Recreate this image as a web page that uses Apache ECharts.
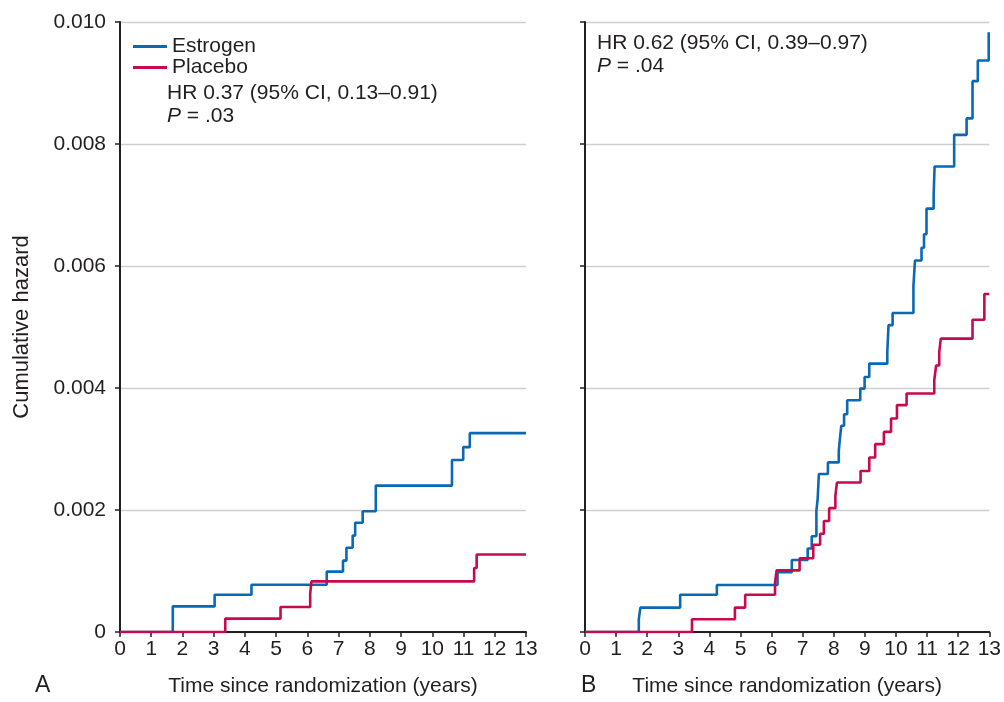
<!DOCTYPE html>
<html>
<head>
<meta charset="utf-8">
<script src="https://cdn.jsdelivr.net/npm/echarts@6/dist/echarts.min.js"></script>
<style>
  html, body { margin: 0; padding: 0; background: #fff; }
  #chart { width: 1004px; height: 702px; }
</style>
</head>
<body>
<div id="chart"></div>
<script>
// Cumulative hazard step curves, estrogen vs placebo (panels A and B)
const xTicks = [0, 1, 2, 3, 4, 5, 6, 7, 8, 9, 10, 11, 12, 13];
const yTicks = [0, 0.002, 0.004, 0.006, 0.008, 0.010];

// Panel A
const timeAEstrogen = [0, 1.69, 3.03, 4.21, 6.62, 7.14, 7.25, 7.45, 7.53, 7.77, 8.19, 10.63, 10.99, 11.2, 13];
const hazAEstrogen  = [0, 0.00042, 0.00061, 0.000775, 0.00099, 0.00117, 0.00138, 0.00158, 0.00179, 0.00198, 0.0024, 0.00282, 0.00303, 0.00326, 0.00326];
const timeAPlacebo  = [0, 3.37, 5.14, 6.09, 6.13, 11.34, 11.42, 13];
const hazAPlacebo   = [0, 0.00022, 0.00041, 0.00063, 0.00083, 0.00105, 0.00127, 0.00127];

// Panel B
const timeBEstrogen = [0, 1.73, 1.78, 3.06, 4.24, 6.19, 6.65, 7.16, 7.29, 7.44, 7.48, 7.52, 7.81, 8.16, 8.20, 8.24, 8.33, 8.43, 8.85, 8.99, 9.14, 9.72, 9.76, 9.89, 10.56, 10.61, 10.82, 10.90, 10.98, 11.21, 11.24, 11.87, 12.27, 12.46, 12.63, 12.98, 13];
const hazBEstrogen  = [0, 0.00021, 0.0004, 0.00061, 0.00077, 0.00098, 0.00118, 0.00137, 0.00157, 0.00199, 0.00218, 0.00259, 0.00278, 0.00297, 0.00319, 0.00338, 0.00357, 0.0038, 0.00399, 0.00418, 0.0044, 0.0046, 0.00503, 0.00523, 0.00567, 0.00609, 0.0063, 0.00652, 0.00694, 0.00717, 0.00763, 0.00815, 0.00842, 0.00903, 0.00937, 0.00983, 0.00983];
const timeBPlacebo  = [0, 3.44, 4.82, 5.15, 6.11, 6.16, 6.9, 7.34, 7.56, 7.68, 7.85, 8.05, 8.1, 8.86, 9.14, 9.33, 9.61, 9.84, 10.03, 10.34, 11.23, 11.29, 11.39, 11.44, 12.46, 12.84, 13];
const hazBPlacebo   = [0, 0.00021, 0.0004, 0.00061, 0.00081, 0.00101, 0.00121, 0.00143, 0.00161, 0.00182, 0.00203, 0.00223, 0.00245, 0.00264, 0.00286, 0.00308, 0.00328, 0.0035, 0.00372, 0.00391, 0.00413, 0.00437, 0.00459, 0.00481, 0.00512, 0.00554, 0.00554];

const groups = ['Estrogen', 'Placebo'];
const panelLetters = ['A', 'B'];
const hrTextA = ['HR 0.37 (95% CI, 0.13\u20130.91)', '{i|P} = .03'];
const hrTextB = ['HR 0.62 (95% CI, 0.39\u20130.97)', '{i|P} = .04'];

const INK = '#231f20';
const BLUE = '#0a68b4';
const RED = '#c8094f';
const FONT = '"Liberation Sans", Arial, Helvetica, sans-serif';
const FS = 21;

const zip = (t, v) => t.map((x, i) => [x, v[i]]);

function xAxisFor(gridIndex) {
  return {
    type: 'value', gridIndex, min: 0, max: 13, interval: 1,
    name: 'Time since randomization (years)',
    nameLocation: 'middle', nameGap: 44,
    nameTextStyle: { color: INK, fontSize: FS, fontFamily: FONT },
    axisLine: { show: true, onZero: false, lineStyle: { color: INK, width: 2 } },
    axisTick: { show: true, length: 5, lineStyle: { color: INK, width: 1.5 } },
    axisLabel: { color: INK, fontSize: FS, fontFamily: FONT, margin: 7,
                 formatter: v => (xTicks.includes(v) ? String(v) : '') },
    splitLine: { show: false }
  };
}

function yAxisFor(gridIndex, showLabels) {
  return {
    type: 'value', gridIndex, min: 0, max: 0.010, interval: 0.002,
    name: showLabels ? 'Cumulative hazard' : '',
    nameLocation: 'middle', nameGap: 87,
    nameTextStyle: { color: INK, fontSize: 22, fontFamily: FONT },
    axisLine: { show: true, lineStyle: { color: INK, width: 2 } },
    axisTick: { show: true, length: 5, lineStyle: { color: INK, width: 1.5 } },
    axisLabel: {
      show: showLabels, color: INK, fontSize: FS, fontFamily: FONT, margin: 14,
      formatter: v => {
        const t = yTicks.find(y => Math.abs(y - v) < 1e-9);
        if (t === undefined) return '';
        return t === 0 ? '0' : t.toFixed(3);
      }
    },
    splitLine: { show: true, lineStyle: { color: '#cfcfcf', width: 1.4 } }
  };
}

function stepSeries(name, data, color, idx) {
  return {
    name, type: 'line', step: 'end', data,
    xAxisIndex: idx, yAxisIndex: idx,
    symbol: 'none', color,
    lineStyle: { color, width: 2.6 },
    animation: false, z: 3
  };
}

const chart = echarts.init(document.getElementById('chart'), null, { renderer: 'canvas' });

const richItalic = { i: { fontStyle: 'italic', fontSize: FS, fontFamily: FONT, fill: INK } };

chart.setOption({
  backgroundColor: '#ffffff',
  animation: false,
  grid: [
    { left: 120, top: 22, width: 406, height: 611, containLabel: false },
    { left: 585, top: 22, width: 407, height: 611, containLabel: false }
  ],
  xAxis: [xAxisFor(0), xAxisFor(1)],
  yAxis: [yAxisFor(0, true), yAxisFor(1, false)],
  legend: {
    data: groups,
    orient: 'vertical',
    left: 128, top: 31,
    icon: 'rect', itemWidth: 34, itemHeight: 3, itemGap: 0,
    textStyle: { color: INK, fontSize: FS, fontFamily: FONT, lineHeight: 21, padding: [0, 0, 0, 0] },
    selectedMode: false
  },
  series: [
    stepSeries(groups[0], zip(timeAEstrogen, hazAEstrogen), BLUE, 0),
    stepSeries(groups[1], zip(timeAPlacebo, hazAPlacebo), RED, 0),
    stepSeries(groups[0], zip(timeBEstrogen, hazBEstrogen), BLUE, 1),
    stepSeries(groups[1], zip(timeBPlacebo, hazBPlacebo), RED, 1)
  ],
  graphic: [
    { type: 'text', left: 167, top: 82,
      style: { text: hrTextA.join('\n'), fill: INK, fontSize: FS, fontFamily: FONT, lineHeight: 23, rich: richItalic } },
    { type: 'text', left: 597, top: 32,
      style: { text: hrTextB.join('\n'), fill: INK, fontSize: FS, fontFamily: FONT, lineHeight: 23, rich: richItalic } },
    { type: 'text', left: 35, top: 674,
      style: { text: panelLetters[0], fill: INK, fontSize: 23, fontFamily: FONT } },
    { type: 'text', left: 581, top: 674,
      style: { text: panelLetters[1], fill: INK, fontSize: 23, fontFamily: FONT } }
  ]
});
</script>
</body>
</html>
